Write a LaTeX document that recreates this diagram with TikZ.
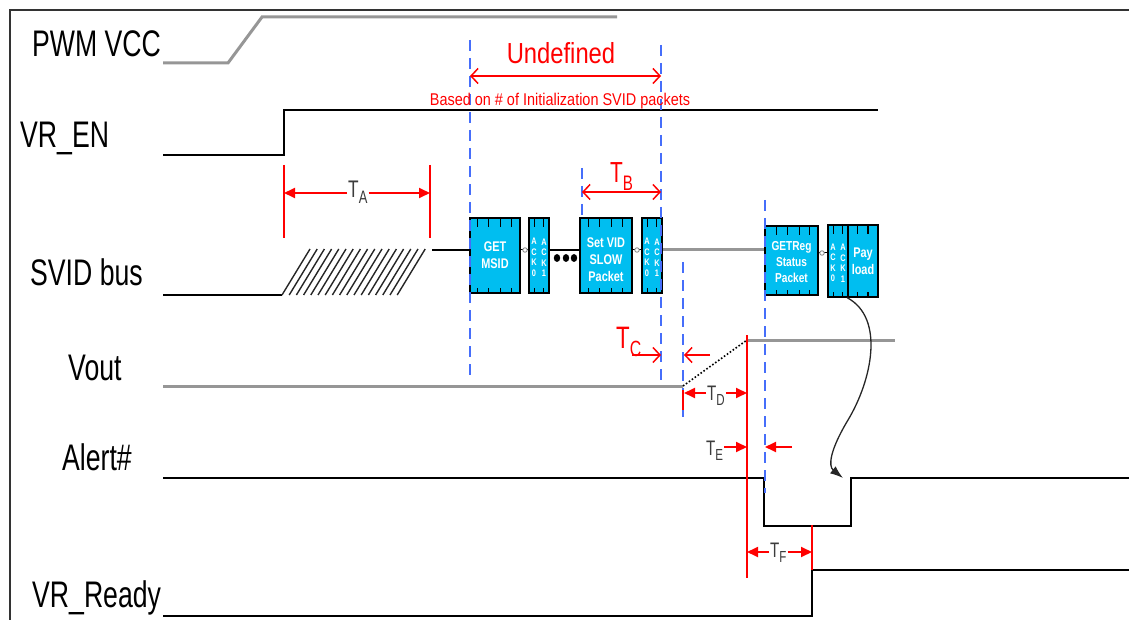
\documentclass[tikz,border=0pt]{standalone}
\usepackage{fontspec}
\setmainfont{Liberation Sans}
\newfontfamily\nar[FakeStretch=0.72]{Liberation Sans}
\newfontfamily\narr[FakeStretch=0.82]{Liberation Sans}
\newfontfamily\narb[FakeStretch=0.85]{Liberation Sans}
\newfontfamily\narp[FakeStretch=0.78]{Liberation Sans}
\usetikzlibrary{arrows.meta,calc}
\definecolor{wgray}{RGB}{150,150,150}
\definecolor{dblue}{RGB}{70,110,250}
\definecolor{pcyan}{RGB}{0,190,240}
\definecolor{tgray}{RGB}{60,60,60}
\newcommand\Tsub[4]{{\fontsize{#1}{#1}\selectfont T\raisebox{-#3pt}{\fontsize{#2}{#2}\selectfont #4}}}
\newcommand\pkticks[2]{%
  \foreach \f in {#2}{%
    \draw[line width=1.2pt] ($(#1.north west)!\f!(#1.north east)$) -- ++(0,10);
    \draw[line width=1.2pt] ($(#1.south west)!\f!(#1.south east)$) -- ++(0,-6);
  }}
\begin{document}
\begin{tikzpicture}[x=1pt,y=-1pt,
  sig/.style={line width=2pt,black},
  gsig/.style={line width=3pt,wgray},
  bdash/.style={dblue,line width=1.6pt,dash pattern=on 11pt off 7pt},
  rline/.style={red,line width=1.8pt},
  farrow/.style={red,line width=1.8pt,-{Triangle[length=11pt,width=10pt]}},
  oarrow/.style={red,line width=1.5pt,-{Straight Barb[length=7pt,width=15pt]}},
  lbl/.style={font=\nar\fontsize{37}{40}\selectfont,inner sep=0pt,anchor=base west},
  pkt/.style={draw=black,line width=1.5pt,fill=pcyan,inner sep=0pt,text=white,align=center,
    font=\narp\bfseries\fontsize{14}{17}\selectfont},
  pktt/.style={inner sep=0pt,text=white,align=center,font=\narp\bfseries\fontsize{14}{17}\selectfont},
  ackt/.style={inner sep=0pt,text=white,align=center,font=\narp\bfseries\fontsize{9.5}{10.5}\selectfont},
  tlab/.style={inner sep=1pt,anchor=base west,font=\nar}
]
\useasboundingbox (0,0) rectangle (1129,620);
% frame
\draw[line width=2pt,black!80] (10,620) -- (10,10) -- (1129,10);

% signal labels
\node[lbl] (lpwm) at (32,57) {PWM VCC};
\node[lbl] (len) at (20,148) {VR\_EN};
\node[lbl] (lsvid) at (30,285) {SVID bus};
\node[lbl] (lvout) at (68,380) {Vout};
\node[lbl] (lalert) at (62,470) {Alert\#};
\node[lbl] (lrdy) at (32,607) {VR\_Ready};

% waveforms
\draw[gsig] (163,63) -- (228,63) -- (262,17) -- (617,17);
\draw[sig] (163,155) -- (284,155) -- (284,110) -- (878,110);
\draw[sig] (163,295) -- (282,295);
\foreach \k in {0,...,16}{
  \draw[line width=1.4pt,black!85] ({282+7.2*\k},295) -- ({310+7.2*\k},249);
}
\draw[gsig] (163,386) -- (683,386);
\draw[line width=1.6pt,dotted] (683,386) -- (747,340);
\draw[gsig] (747,340) -- (895,340);
\draw[sig] (163,478) -- (764,478) -- (764,526) -- (851,526) -- (851,478) -- (1129,478);
\draw[sig] (163,616) -- (812,616) -- (812,570) -- (1129,570);

% packets
\node[pkt,minimum width=50pt,minimum height=75pt] (msid) at (495,255.5) {GET\\MSID};
\node[pkt,minimum width=20pt,minimum height=75pt] (ack0) at (539,255.5) {};
\node[pkt,minimum width=52pt,minimum height=75pt] (setvid) at (606,255.5) {};
\node[pktt] (setvidt) at (606,260) {Set VID\\SLOW\\Packet};
\node[pkt,minimum width=20pt,minimum height=75pt] (ack2) at (652,255.5) {};
\node[pkt,minimum width=53pt,minimum height=69pt] (getreg) at (791.5,260.5) {};
\node[pktt,font=\narp\bfseries\fontsize{13}{16}\selectfont] (getregt) at (791.5,262) {GETReg\\Status\\Packet};
\node[pkt,minimum width=20pt,minimum height=72pt] (ack3) at (838,261) {};
\node[pkt,minimum width=30pt,minimum height=72pt] (pay) at (863,261) {Pay\\load};
\pkticks{msid}{0.16,0.38,0.6,0.82}
\pkticks{ack0}{0.3,0.7}
\pkticks{setvid}{0.17,0.38,0.61,0.81}
\pkticks{ack2}{0.3,0.7}
\pkticks{getreg}{0.23,0.43,0.64,0.83}
\pkticks{ack3}{0.3,0.7}
\pkticks{pay}{0.33,0.66}
\foreach \n in {ack0,ack2,ack3}{
  \node[ackt] (\n a) at ($(\n.center)+(-5,2)$) {A\\C\\K\\0};
  \node[ackt] (\n b) at ($(\n.center)+(5,2)$) {A\\C\\K\\1};
}

% bus connections
\coordinate (hend) at (432,250);
\draw[sig] (hend) -- (hend -| msid.west);
\draw[line width=1pt] (msid.east |- hend) -- (ack0.west |- hend);
\node[circle,draw=gray,fill=white,line width=0.8pt,inner sep=1.6pt] (c1) at (525,250) {};
\draw[sig] (ack0.east |- hend) -- (setvid.west |- hend);
\foreach \x [count=\i] in {557,566,574}{
  \fill (\x,258) ellipse (3.2pt and 4pt);
}
\draw[line width=1pt] (setvid.east |- hend) -- (ack2.west |- hend);
\node[circle,draw=gray,fill=white,line width=0.8pt,inner sep=1.6pt] (c2) at (637,250) {};
\draw[gsig] (ack2.east |- hend) -- (getreg.west |- hend);
\coordinate (hb) at (0,253);
\draw[line width=1pt] (getreg.east |- hb) -- (ack3.west |- hb);
\node[circle,draw=gray,fill=white,line width=0.8pt,inner sep=1.6pt] (c3) at (822,253) {};

% curved arrow from payload to Alert#
\coordinate (alrt) at (843,478);
\draw[line width=1.3pt,black!85,-{Latex[length=13pt,width=9pt]}] (pay.south west)
  .. controls (885,318) and (872,380) .. (848,420)
  .. controls (830,450) and (828,466) .. (alrt);

% blue dashed markers
\draw[bdash] (470,40) -- (470,378);
\draw[bdash] (661,45) -- (661,380);
\draw[bdash] (582,168) -- (582,216);
\draw[bdash] (683,262) -- (683,420);
\draw[bdash] (765,200) -- (765,493);

% Undefined
\node[inner sep=0pt,anchor=base,text=red,font=\narr\fontsize{29}{30}\selectfont] (undef) at (561,64) {Undefined};
\coordinate (uL) at (470,76);
\coordinate (uR) at (661,76);
\draw[red,line width=1.5pt,{Straight Barb[length=7pt,width=15pt]}-{Straight Barb[length=7pt,width=15pt]}] (uL) -- (uR);
\node[inner sep=0pt,anchor=base,text=red,font=\narb\fontsize{17}{18}\selectfont] (based) at (560,106) {Based on \# of Initialization SVID packets};

% T_A
\draw[rline] (284,165) -- (284,238);
\draw[rline] (430,165) -- (430,238);
\coordinate (taL) at (284,193);
\coordinate (taR) at (430,193);
\node[tlab,text=tgray] (ta) at (347,198) {\Tsub{24}{18}{6}{A}};
\draw[farrow] (ta.west |- taL) -- (taL);
\draw[farrow] (ta.east |- taR) -- (taR);

% T_B
\node[tlab,text=red] (tb) at (609,183) {\Tsub{29}{21}{8}{B}};
\coordinate (tbL) at (582,192);
\coordinate (tbR) at (661,192);
\draw[red,line width=1.5pt,{Straight Barb[length=7pt,width=15pt]}-{Straight Barb[length=7pt,width=15pt]}] (tbL) -- (tbR);

% T_C
\node[tlab,text=red] (tc) at (615,348) {\Tsub{31}{22}{8}{C}};
\coordinate (tcL) at (661,355);
\coordinate (tcR) at (684,355);
\draw[oarrow] (632,355) -- (tcL);
\draw[oarrow] (710,355) -- (tcR);

% T_D, T_E, T_F
\draw[rline] (747,335) -- (747,578);
\draw[rline] (812,525) -- (812,570);
\draw[rline] (683,390) -- (683,410);
\node[tlab,text=tgray] (td) at (706,400) {\Tsub{21}{16}{5}{D}};
\coordinate (tdL) at (684,393);
\coordinate (tdR) at (747,393);
\draw[farrow] (td.west |- tdL) -- (tdL);
\draw[farrow] (td.east |- tdR) -- (tdR);
\node[tlab,text=tgray] (te) at (705,455) {\Tsub{21}{16}{5}{E}};
\coordinate (teL) at (747,447);
\coordinate (teR) at (765,447);
\draw[farrow] (te.east |- teL) -- (teL);
\draw[farrow] (792,447) -- (teR);
\node[tlab,text=tgray] (tf) at (769,557) {\Tsub{21}{16}{5}{F}};
\coordinate (tfL) at (747,552);
\coordinate (tfR) at (812,552);
\draw[farrow] (tf.west |- tfL) -- (tfL);
\draw[farrow] (tf.east |- tfR) -- (tfR);
\end{tikzpicture}
\end{document}
